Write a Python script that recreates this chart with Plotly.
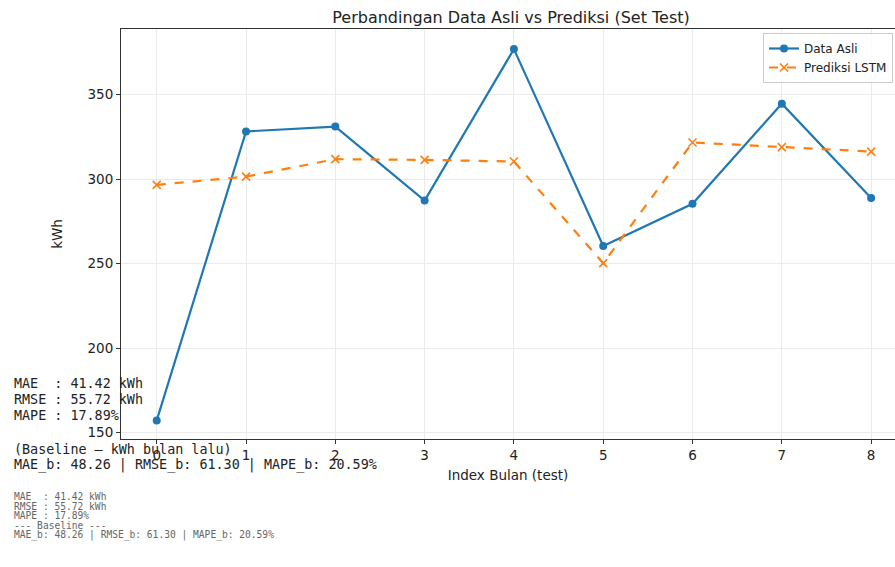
import plotly.graph_objects as go

# ---- data ----
bulan_idx = [0, 1, 2, 3, 4, 5, 6, 7, 8]
data_asli = [157.3, 328.2, 331.1, 287.3, 376.9, 260.5, 285.4, 344.6, 288.8]
prediksi_lstm = [296.6, 301.5, 311.8, 311.4, 310.4, 250.3, 321.7, 318.9, 316.3]
y_ticks = [150, 200, 250, 300, 350]

metrics_lines = ["MAE  : 41.42 kWh", "RMSE : 55.72 kWh", "MAPE : 17.89%"]
baseline_lines = ["(Baseline \u2014 kWh bulan lalu)",
                  "MAE_b: 48.26 | RMSE_b: 61.30 | MAPE_b: 20.59%"]
footer_lines = ["MAE  : 41.42 kWh", "RMSE : 55.72 kWh", "MAPE : 17.89%",
                "--- Baseline ---",
                "MAE_b: 48.26 | RMSE_b: 61.30 | MAPE_b: 20.59%"]

W, H = 895, 567
L, R, T, B = 121, 0, 29, 567 - 439
PW = W - L - R
PH = H - T - B

def px(xp):  # screen pixel -> paper x
    return (xp - L) / PW

def py(yp):  # screen pixel -> paper y
    return (H - B - yp) / PH

BLUE = "#1f77b4"
ORANGE = "#ff7f0e"
FONT = "DejaVu Sans"
MONO = "DejaVu Sans Mono"

fig = go.Figure()
fig.add_trace(go.Scatter(
    x=bulan_idx, y=data_asli, mode="lines+markers", name="Data Asli",
    line=dict(color=BLUE, width=2.2),
    marker=dict(symbol="circle", size=8, color=BLUE),
))
fig.add_trace(go.Scatter(
    x=bulan_idx, y=prediksi_lstm, mode="lines+markers", name="Prediksi LSTM",
    line=dict(color=ORANGE, width=2.2, dash="dash"),
    marker=dict(symbol="x-thin", size=8, color=ORANGE,
                line=dict(color=ORANGE, width=1.6)),
))

annotations = []
for i, t in enumerate(metrics_lines):
    annotations.append(dict(
        text=t, xref="paper", yref="paper", x=px(12), y=py(383 + 16 * i),
        xanchor="left", yanchor="middle", showarrow=False,
        font=dict(family=MONO, size=13.4, color="#222")))
for i, t in enumerate(baseline_lines):
    annotations.append(dict(
        text=t, xref="paper", yref="paper", x=px(12), y=py(449 + 16 * i),
        xanchor="left", yanchor="middle", showarrow=False,
        font=dict(family=MONO, size=13.4, color="#222")))
for i, t in enumerate(footer_lines):
    annotations.append(dict(
        text=t, xref="paper", yref="paper", x=px(12), y=py(497 + 9.4 * i),
        xanchor="left", yanchor="middle", showarrow=False,
        font=dict(family=MONO, size=9.6, color="#666")))

fig.update_layout(
    width=W, height=H,
    margin=dict(l=L, r=R, t=T, b=B, autoexpand=False),
    paper_bgcolor="white", plot_bgcolor="white",
    font=dict(family=FONT, size=13.5, color="#222"),
    title=dict(text="Perbandingan Data Asli vs Prediksi (Set Test)",
               xref="paper", x=px(511), xanchor="center",
               yref="container", y=1 - 17 / H, yanchor="middle",
               font=dict(family=FONT, size=16, color="#222")),
    xaxis=dict(
        range=[-0.4, -0.4 + PW / 89.3], tickmode="array", tickvals=bulan_idx,
        showgrid=True, gridcolor="#ebebeb", gridwidth=1,
        showline=True, linecolor="#333", linewidth=1, mirror=True,
        ticks="outside", ticklen=4, tickcolor="#333", zeroline=False,
        tickfont=dict(size=13.5),
        title=dict(text="Index Bulan (test)", standoff=8,
                   font=dict(family=FONT, size=13.5, color="#222")),
    ),
    yaxis=dict(
        range=[146.3, 388.8], tickmode="array", tickvals=y_ticks,
        showgrid=True, gridcolor="#ebebeb", gridwidth=1,
        showline=True, linecolor="#333", linewidth=1, mirror=False,
        ticks="outside", ticklen=4, tickcolor="#333", zeroline=False,
        tickfont=dict(size=13.5),
        title=dict(text="kWh", standoff=21,
                   font=dict(family=FONT, size=13.5, color="#222")),
    ),
    legend=dict(x=px(893), xanchor="right", y=py(33), yanchor="top",
                bgcolor="rgba(255,255,255,0.85)", bordercolor="#cccccc",
                borderwidth=1, font=dict(family=FONT, size=12, color="#222"),
                itemwidth=30, tracegroupgap=0),
    annotations=annotations,
    showlegend=True,
    hovermode=False,
)

fig.write_html(
    "out.html",
    config={"displayModeBar": False, "staticPlot": True},
    post_script="document.body.style.margin='0';"
                "document.body.style.overflow='hidden';",
)
